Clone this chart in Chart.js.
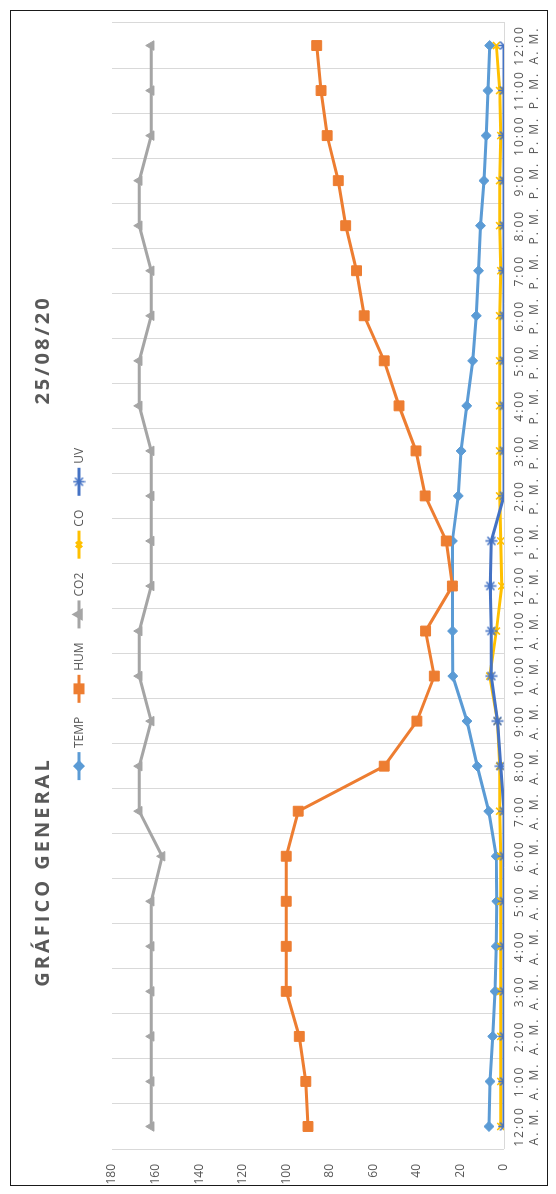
<!DOCTYPE html>
<html lang="es">
<head>
<meta charset="utf-8">
<title>Gráfico general 25/08/20</title>
<script src="https://cdn.jsdelivr.net/npm/chart.js@4.4.1/dist/chart.umd.min.js"></script>
<style>
  html, body { margin: 0; padding: 0; background: #fff; }
  body { width: 556px; height: 1194px; position: relative; overflow: hidden; }
  #frame {
    position: absolute; left: 10px; top: 10px; width: 538px; height: 1176px;
    box-sizing: border-box; border: 1px solid #1a1a1a;
  }
  /* the chart is laid out landscape and turned a quarter turn counter-clockwise */
  #sheet {
    position: absolute; left: 0; top: 0; width: 1176px; height: 538px;
    transform-origin: 0 0; transform: translate(10px, 1186px) rotate(-90deg);
  }
  #sheet canvas { position: absolute; left: 0; top: 0; }
  .ttl {
    position: absolute; top: 31px; transform: translate(-50%, -50%);
    font: bold 20px "Open Sans", sans-serif; color: #595959; letter-spacing: 3px;
    white-space: nowrap;
  }
</style>
</head>
<body>
<div id="frame"></div>
<div id="sheet">
  <canvas id="chart" width="1176" height="538"></canvas>
  <div class="ttl" style="left:314px">GRÁFICO GENERAL</div>
  <div class="ttl" style="left:836px">25/08/20</div>
</div>
<script>
// hourly readings for the day
const hours = ['12:00','1:00','2:00','3:00','4:00','5:00','6:00','7:00','8:00','9:00','10:00','11:00',
               '12:00','1:00','2:00','3:00','4:00','5:00','6:00','7:00','8:00','9:00','10:00','11:00','12:00'];
const periods = ['A. M.','A. M.','A. M.','A. M.','A. M.','A. M.','A. M.','A. M.','A. M.','A. M.','A. M.','A. M.',
                 'P. M.','P. M.','P. M.','P. M.','P. M.','P. M.','P. M.','P. M.','P. M.','P. M.','P. M.','P. M.','A. M.'];

const temp = [6.9, 6.4, 5.2, 4.1, 3.6, 3.3, 3.6, 7.0, 12.3, 17.0, 23.5, 23.6, 23.7, 23.7, 21.0, 19.7,
              17.1, 14.4, 12.7, 11.7, 10.8, 9.2, 8.2, 7.4, 6.6];
const hum  = [90, 91, 94, 100, 100, 100, 100, 94.5, 55, 40, 32, 36, 23.7, 26.5, 36.2, 40.4,
              48.2, 55, 64.2, 67.7, 72.7, 76.1, 81.2, 84, 86];
const co2  = [162, 162, 162, 162, 162, 162, 157, 167.5, 167.5, 162, 167.5, 167.5, 162, 162, 162, 162,
              167.5, 167.5, 162, 162, 167.5, 167.5, 162, 162, 162];
const co   = [1.5, 1.5, 1.5, 1.5, 1.5, 1.5, 1.5, 2, 2, 3, 6.5, 3.5, 1, 1.5, 2, 2,
              2, 2, 2, 1.5, 2, 2, 1.5, 2, 3.5];
const uv   = [0, 0, 0, 0, 0, 0, 0, 0, 1.5, 3, 5.8, 5.8, 6.3, 5.8, 0, 0,
              0, 0, 0, 0, 0, 0, 0, 0, 0];

const valueTicks = [0, 20, 40, 60, 80, 100, 120, 140, 160, 180];

const categories = hours.map((h, i) => [h, periods[i]]);

// asterisk marker: an x with a stroke through it
function asterisk(color) {
  const c = document.createElement('canvas');
  c.width = 13; c.height = 13;
  const g = c.getContext('2d');
  g.strokeStyle = color; g.lineWidth = 1.6;
  g.beginPath();
  g.moveTo(2.5, 2.5); g.lineTo(10.5, 10.5);
  g.moveTo(10.5, 2.5); g.lineTo(2.5, 10.5);
  g.moveTo(6.5, 0.5); g.lineTo(6.5, 12.5);
  g.stroke();
  return c;
}

const series = [
  { label: 'TEMP', data: temp, color: '#5B9BD5', style: 'rectRot', radius: 5 },
  { label: 'HUM',  data: hum,  color: '#ED7D31', style: 'rect',    radius: 7 },
  { label: 'CO2',  data: co2,  color: '#A5A5A5', style: 'triangle', radius: 5.5 },
  { label: 'CO',   data: co,   color: '#FFC000', style: 'crossRot', radius: 5 },
  { label: 'UV',   data: uv,   color: '#4472C4', style: asterisk('#4472C4'), radius: 6 }
];

// legend drawn as line + marker + name, centred above the plot
const lineLegend = {
  id: 'lineLegend',
  afterDraw(chart) {
    const ctx = chart.ctx;
    ctx.save();
    ctx.font = '12px "Open Sans", sans-serif';
    ctx.textBaseline = 'middle';
    ctx.fillStyle = '#595959';
    const sw = 28, gapText = 4, gapItem = 14;
    const items = chart.data.datasets.map(ds => ({ ds, w: sw + gapText + ctx.measureText(ds.label).width }));
    const total = items.reduce((s, it) => s + it.w, 0) + gapItem * (items.length - 1);
    let x = 572 - total / 2;
    const y = 69;
    items.forEach(({ ds, w }) => {
      ctx.strokeStyle = ds.borderColor;
      ctx.lineWidth = 3;
      ctx.beginPath(); ctx.moveTo(x, y); ctx.lineTo(x + sw, y); ctx.stroke();
      ctx.fillStyle = ds.pointBackgroundColor;
      ctx.strokeStyle = ds.pointBorderColor;
      Chart.helpers.drawPoint(ctx, {
        pointStyle: ds.pointStyle, radius: ds.pointRadius * 0.8, rotation: 0,
        borderWidth: ds.pointBorderWidth
      }, x + sw / 2, y);
      ctx.fillStyle = '#595959';
      ctx.fillText(ds.label, x + sw + gapText, y + 1);
      x += w + gapItem;
    });
    ctx.restore();
  }
};

// category labels are set with a little extra tracking
const trackedLabels = {
  id: 'trackedLabels',
  afterLayout(chart) {
    const sx = chart.scales.x;
    if (!sx || sx._tracked) return;
    const draw = sx.drawLabels.bind(sx);
    sx.drawLabels = function (area) {
      const ctx = this.ctx;
      const prev = ctx.letterSpacing;
      ctx.letterSpacing = '2px';
      draw(area);
      ctx.letterSpacing = prev;
    };
    sx._tracked = true;
  }
};

new Chart(document.getElementById('chart'), {
  type: 'line',
  data: {
    labels: categories,
    datasets: series.map((s, i) => ({
      label: s.label,
      data: s.data,
      borderColor: s.color,
      backgroundColor: s.color,
      borderWidth: 3,
      tension: 0,
      pointStyle: s.style,
      pointRadius: s.radius,
      pointHoverRadius: s.radius,
      pointBackgroundColor: s.color,
      pointBorderColor: s.color,
      pointBorderWidth: (s.style === 'crossRot' || typeof s.style !== 'string') ? 1.6 : 1,
      order: series.length - i
    }))
  },
  options: {
    responsive: false,
    animation: false,
    layout: { padding: { top: 102, right: 13, bottom: 0, left: 0 } },
    plugins: { legend: { display: false }, title: { display: false }, tooltip: { enabled: false } },
    scales: {
      x: {
        type: 'category',
        offset: true,
        grid: { color: '#D9D9D9', lineWidth: 1, offset: true, drawTicks: false },
        border: { display: true, color: '#D9D9D9' },
        ticks: {
          autoSkip: false, maxRotation: 0, minRotation: 0, padding: 8,
          color: '#595959', font: { family: 'Open Sans', size: 12, lineHeight: 1.25 }
        },
        afterFit(scale) { scale.height = 44; }
      },
      y: {
        min: 0, max: 180,
        afterBuildTicks(scale) { scale.ticks = valueTicks.map(v => ({ value: v })); },
        grid: { display: false, drawTicks: false },
        border: { display: false },
        ticks: { padding: 15, color: '#595959', font: { family: 'Open Sans', size: 12 } },
        afterFit(scale) { scale.width = 37; }
      }
    }
  },
  plugins: [lineLegend, trackedLabels]
});
</script>
</body>
</html>
